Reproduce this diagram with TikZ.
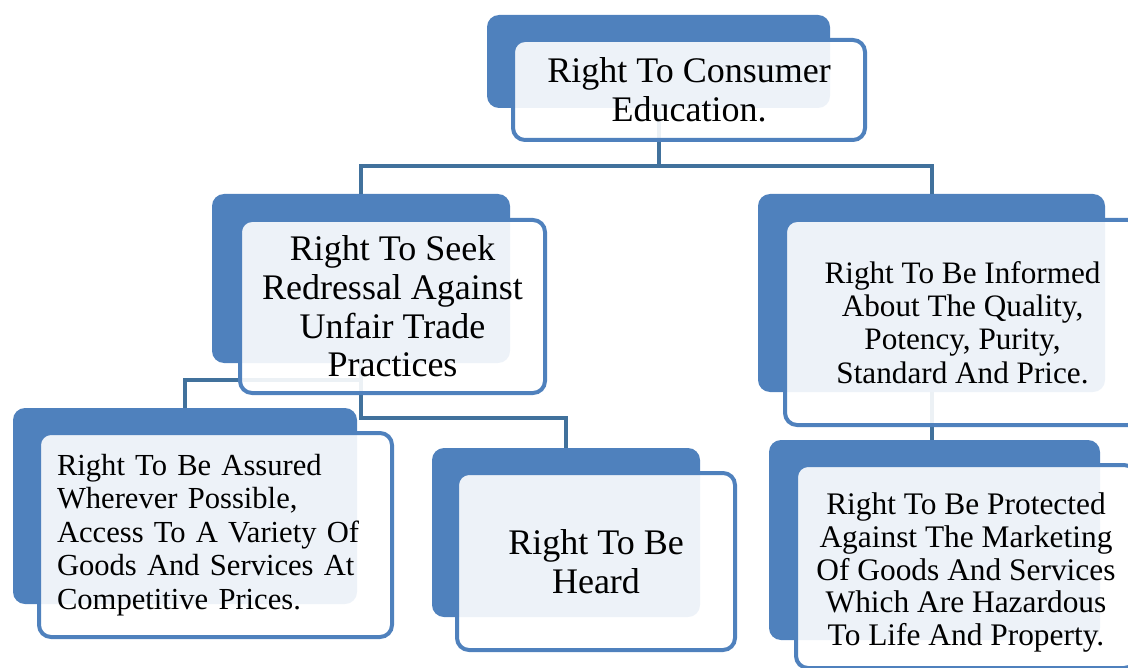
\documentclass[tikz,border=0pt]{standalone}
\usepackage{fontspec}
\setmainfont{Liberation Serif}
\definecolor{accent}{HTML}{4F81BD}
\definecolor{linkcol}{HTML}{41719C}

\begin{document}
\begin{tikzpicture}[x=0.5pt,y=-0.5pt,
    back/.style={fill=accent,rounded corners=6pt,inner sep=0pt},
    front/.style={draw=accent,line width=2pt,fill=white,fill opacity=0.9,text opacity=1,
      rounded corners=6pt,inner sep=0pt,align=center},
    link/.style={draw=linkcol,line width=2pt},
    big/.style={font=\fontsize{18}{19.3}\selectfont},
    small/.style={font=\fontsize{15.6}{16.6}\selectfont}]
  \useasboundingbox (0,0) rectangle (1128,668);
  \clip (0,0) rectangle (1128,668);

  % dark boxes behind
  \node[back,minimum width=171.5pt,minimum height=46.5pt] (consB) at (658.5,61.5) {};
  \node[back,minimum width=149pt,minimum height=84.5pt] (seekB) at (361,278.5) {};
  \node[back,minimum width=173.5pt,minimum height=99pt] (infoB) at (931.5,293) {};
  \node[back,minimum width=172pt,minimum height=98pt] (assuB) at (185,506) {};
  \node[back,minimum width=134pt,minimum height=84.5pt] (heardB) at (566,532.5) {};
  \node[back,minimum width=165.5pt,minimum height=100pt] (protB) at (934.5,540) {};

  % connectors
  \coordinate (bar) at ([yshift=-29pt]consB.south);
  \draw[link] (consB.south) -- (bar) -| (seekB.north);
  \draw[link] (bar) -| (infoB.north);
  \draw[link] (seekB.south) -- ++(0,17) -| (assuB.north);
  \draw[link] (seekB.south) -- ++(0,55) -| (heardB.north);
  \draw[link] (infoB.south) -- (infoB.south |- protB.north);

  % light boxes with the text
  \node[front,big,minimum width=176pt,minimum height=50pt] (cons) at (689,90)
    {Right To Consumer\\Education.};
  \node[front,big,minimum width=152.5pt,minimum height=86.5pt] (seek) at (392.5,306.5)
    {Right To Seek\\Redressal Against\\Unfair Trade\\Practices};
  \node[front,small,minimum width=177.5pt,minimum height=102.5pt] (info) at (962.5,322.5)
    {Right To Be Informed\\About The Quality,\\Potency, Purity,\\Standard And Price.};
  \node[front,small,align=left,text width=158.5pt,minimum width=176.5pt,minimum height=102pt,
    font=\fontsize{15.3}{16.7}\selectfont] (assu) at (215.5,535)
    {Right To Be Assured\\Wherever Possible,\\Access To A Variety Of\\Goods And Services At\\Competitive Prices.};
  \node[front,big,minimum width=139pt,minimum height=88.5pt] (heard) at (596,561.5)
    {Right To Be\\Heard};
  \node[front,minimum width=170pt,minimum height=101.5pt] (prot) at (966,566.5) {};
  \node[align=center,inner sep=0pt,font=\fontsize{15.7}{16.4}\selectfont] (prottxt)
    at ([yshift=-3pt]prot.center)
    {Right To Be Protected\\Against The Marketing\\Of Goods And Services\\Which Are Hazardous\\To Life And Property.};
\end{tikzpicture}
\end{document}
